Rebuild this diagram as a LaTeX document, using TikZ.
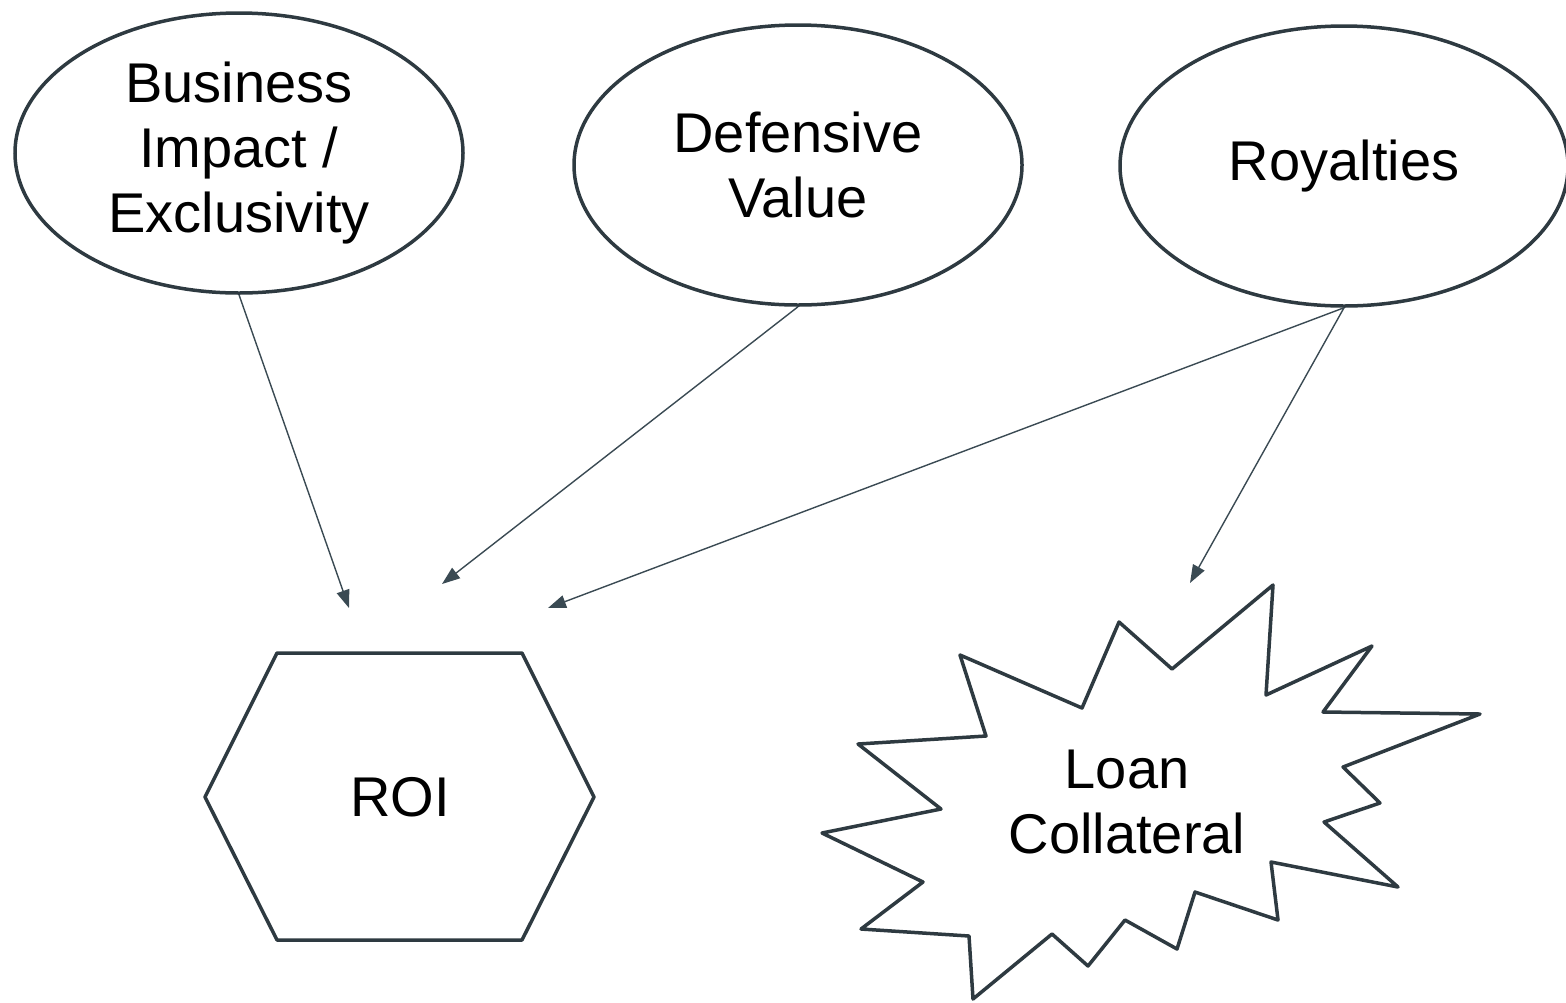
\documentclass[tikz,border=0pt]{standalone}
\usepackage{fontspec}
\setmainfont{Liberation Sans}
\usetikzlibrary{shapes.geometric,arrows.meta}
\definecolor{edgegray}{HTML}{3A4A53}
\definecolor{outlinegray}{HTML}{2E3A41}

\begin{document}
\begin{tikzpicture}[x=0.5pt,y=-0.5pt,
    every node/.style={font=\fontsize{28}{32.5}\selectfont, align=center, inner sep=0pt},
    factor/.style={ellipse, draw=outlinegray, line width=1.75pt, minimum width=224pt, minimum height=140pt},
    outline/.style={draw=outlinegray, line width=1.75pt, line join=round},
    link/.style={draw=edgegray, line width=0.7pt, -{Triangle[length=9pt,width=6.5pt]}}]
  \useasboundingbox (0,0) rectangle (1566,1002);
  \node[factor] (impact) at (239,153) {Business\\Impact /\\Exclusivity};
  \node[factor] (defense) at (798,165) {Defensive\\Value};
  \node[factor] (royal) at (1344,166) {Royalties};
  % hexagon
  \draw[outline] (277,653) -- (522,653) -- (594,797) -- (522,940) -- (277,940) -- (205,797) -- cycle;
  \node (roi) at (400,797) {ROI};
  % starburst
  \draw[outline] (1273,585) -- (1266,695) -- (1372,646) -- (1323,712) -- (1480,714) -- (1343,767)
    -- (1380,803) -- (1324,822) -- (1398,887) -- (1271,862) -- (1278,920) -- (1195,892)
    -- (1177,949) -- (1125,920) -- (1088,966) -- (1052,934) -- (973,999) -- (969,936)
    -- (861,929) -- (923,882) -- (822,833) -- (941,809) -- (858,744) -- (986,736)
    -- (960,655) -- (1082,708) -- (1119,622) -- (1172,669) -- cycle;
  \node (loan) at (1127,802) {Loan\\Collateral};
  \coordinate (roiA) at (349,608);
  \coordinate (roiB) at (442,584);
  \coordinate (roiC) at (548,608);
  \coordinate (loanA) at (1190,583);
  \draw[link] (impact.south) -- (roiA);
  \draw[link] (defense.south) -- (roiB);
  \draw[link] (royal.south) -- (roiC);
  \draw[link] (royal.south) -- (loanA);
\end{tikzpicture}
\end{document}
